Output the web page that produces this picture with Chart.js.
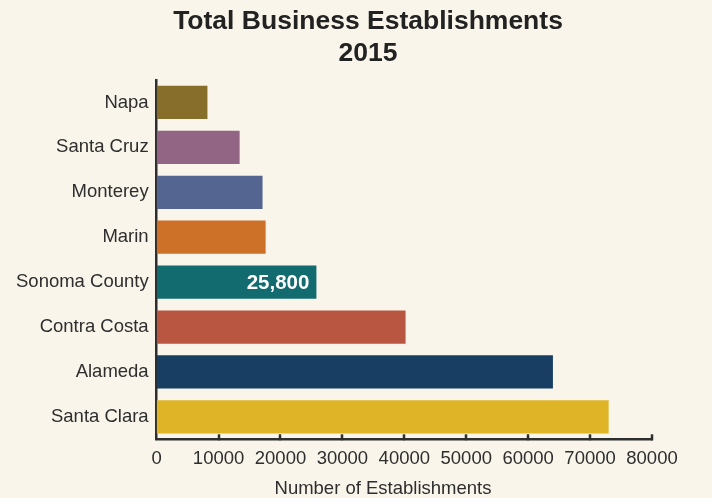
<!DOCTYPE html>
<html lang="en">

<head>
  <meta charset="utf-8">
  <title>Total Business Establishments 2015</title>
  <style>
    html, body { margin: 0; padding: 0; background: #f9f5ea; }
    #wrap { position: relative; width: 712px; height: 498px; }
  </style>
</head>

<body>
  <div id="wrap">
    <canvas id="chart" width="712" height="498"></canvas>
  </div>

  <script src="https://cdn.jsdelivr.net/npm/chart.js"></script>
  <script>
    const counties = ["Napa", "Santa Cruz", "Monterey", "Marin", "Sonoma County", "Contra Costa", "Alameda", "Santa Clara"];
    const establishments = [8200, 13400, 17100, 17600, 25800, 40200, 64000, 73000];
    const barColors = ["#876f2b", "#926585", "#546592", "#ce7128", "#116b6f", "#b85642", "#183f63", "#dfb427"];
    const highlighted = "Sonoma County";
    const titleLines = ["Total Business Establishments", "2015"];
    const axisTitle = "Number of Establishments";

    const ink = "#2e2e2e";
    const font = "'Liberation Sans', Arial, sans-serif";

    // titles, the upward x ticks and the value on the highlighted bar
    const extras = {
      id: "extras",
      afterDatasetsDraw(chart) {
        const ctx = chart.ctx;
        const x = chart.scales.x;
        const area = chart.chartArea;

        ctx.save();
        ctx.strokeStyle = ink;
        ctx.lineWidth = 2.5;
        x.ticks.forEach((t, i) => {
          if (i === 0) return;
          const px = Math.round(x.getPixelForTick(i));
          ctx.beginPath();
          ctx.moveTo(px, area.bottom + 1);
          ctx.lineTo(px, area.bottom - 5);
          ctx.stroke();
        });

        const idx = counties.indexOf(highlighted);
        const bar = chart.getDatasetMeta(0).data[idx];
        ctx.fillStyle = "#ffffff";
        ctx.font = "bold 20.5px " + font;
        ctx.textAlign = "right";
        ctx.textBaseline = "middle";
        ctx.fillText(establishments[idx].toLocaleString("en-US"), bar.x - 7, bar.y + 1);

        ctx.fillStyle = "#222222";
        ctx.textAlign = "center";
        ctx.font = "bold 26.5px " + font;
        titleLines.forEach((line, i) => ctx.fillText(line, 368, 22 + i * 32));

        ctx.fillStyle = ink;
        ctx.font = "18.5px " + font;
        ctx.fillText(axisTitle, 383, 489);
        ctx.restore();
      }
    };

    new Chart(document.getElementById("chart"), {
      type: "bar",
      data: {
        labels: counties,
        datasets: [{
          data: establishments,
          backgroundColor: barColors,
          borderWidth: 0,
          categoryPercentage: 0.74,
          barPercentage: 1
        }]
      },
      options: {
        indexAxis: "y",
        responsive: false,
        animation: false,
        devicePixelRatio: 1,
        layout: { padding: { top: 80, right: 60, bottom: 19.5, left: 8 } },
        plugins: {
          legend: { display: false },
          tooltip: { enabled: false },
          title: { display: false }
        },
        scales: {
          x: {
            min: 0,
            max: 80000,
            ticks: {
              stepSize: 10000,
              color: ink,
              font: { family: font, size: 18.5 },
              padding: 8.5,
              callback: v => String(v)
            },
            grid: { display: false, drawTicks: false },
            border: { display: true, color: ink, width: 2.5 }
          },
          y: {
            ticks: { color: ink, font: { family: font, size: 18.5 }, padding: 8 },
            grid: { display: false, drawTicks: false },
            border: { display: true, color: ink, width: 2.5 }
          }
        }
      },
      plugins: [extras]
    });
  </script>
</body>

</html>
